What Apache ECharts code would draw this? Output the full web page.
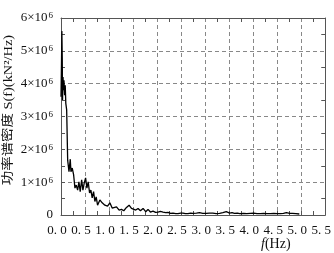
<!DOCTYPE html>
<html>
<head>
<meta charset="utf-8">
<script src="https://cdn.jsdelivr.net/npm/echarts@6/dist/echarts.min.js"></script>
<style>html,body{margin:0;padding:0;background:#fff;}#c{width:334px;height:253px;}</style>
</head>
<body>
<div id="c"></div>
<script>
// Frequency (Hz)
var freq = [0.000,0.010,0.018,0.026,0.032,0.042,0.052,0.062,0.075,0.088,0.100,0.118,0.139,0.166,0.193,0.207,0.234,0.263,0.290,0.317,0.346,0.373,0.400,0.430,0.456,0.483,0.512,0.539,0.566,0.595,0.622,0.649,0.678,0.705,0.732,0.761,0.809,0.857,0.913,0.969,1.017,1.065,1.085,1.155,1.210,1.259,1.307,1.363,1.417,1.467,1.500,1.556,1.604,1.654,1.708,1.763,1.811,1.861,1.915,1.970,2.019,2.070,2.124,2.180,2.227,2.280,2.330,2.390,2.434,2.490,2.537,2.590,2.641,2.700,2.745,2.820,2.884,2.950,3.023,3.090,3.160,3.230,3.300,3.370,3.440,3.510,3.560,3.610,3.670,3.720,3.800,3.870,3.940,4.010,4.080,4.150,4.220,4.290,4.360,4.430,4.500,4.570,4.630,4.690,4.760,4.820,4.890,4.960];
// Power spectral density, units of 10^6 kN^2/Hz
var psdE6 = [3.60,4.60,5.60,4.80,3.50,4.20,3.80,4.10,3.65,3.95,3.40,3.20,1.67,1.32,1.70,1.32,1.43,1.22,0.82,0.91,0.76,1.01,0.71,1.07,0.76,0.97,1.13,0.82,1.01,0.67,0.76,0.52,0.71,0.41,0.55,0.30,0.46,0.37,0.30,0.27,0.37,0.21,0.20,0.25,0.15,0.17,0.13,0.23,0.30,0.20,0.25,0.15,0.20,0.13,0.20,0.10,0.17,0.09,0.12,0.08,0.09,0.11,0.09,0.07,0.08,0.05,0.06,0.04,0.04,0.06,0.06,0.04,0.04,0.06,0.05,0.06,0.07,0.05,0.05,0.06,0.06,0.04,0.05,0.07,0.10,0.06,0.07,0.05,0.06,0.04,0.05,0.04,0.05,0.06,0.04,0.04,0.05,0.04,0.04,0.05,0.04,0.04,0.05,0.07,0.05,0.05,0.04,0.03];
var xTicks = [0,0.5,1.0,1.5,2.0,2.5,3.0,3.5,4.0,4.5,5.0,5.5];
var yTicks = [0,1,2,3,4,5,6];
var xName = 'f';
var xUnit = '(Hz)';
var yName = '功率谱密度 S(f)(kN²/Hz)';

var data = freq.map(function(f,i){return [f, psdE6[i]];});
var serif = '"Liberation Serif","DejaVu Serif","Noto Sans CJK SC",serif';
var axisColor = '#555';
var gridStyle = {show:true, lineStyle:{color:'#888', type:[4,3], width:1}};

var chart = echarts.init(document.getElementById('c'));
chart.setOption({
  animation:false,
  backgroundColor:'#fff',
  grid:{left:61, right:8, top:18, bottom:38},
  xAxis:[{
    type:'value', min:0, max:5.5, interval:0.5,
    axisLine:{show:true, onZero:false, lineStyle:{color:axisColor}},
    axisTick:{show:true, inside:true, length:4, lineStyle:{color:axisColor}},
    minorTick:{show:true, splitNumber:2, length:4, lineStyle:{color:axisColor}},
    splitLine:gridStyle,
    axisLabel:{
      margin:9, color:'#111', fontFamily:serif, fontSize:13,
      padding:[0,8,0,0],
      formatter:function(v){ return v.toFixed(1).replace('.', '. '); }
    }
  },{
    type:'value', position:'top', min:0, max:5.5, interval:0.5,
    axisLine:{show:true, onZero:false, lineStyle:{color:axisColor}},
    axisTick:{show:false, inside:true},
    minorTick:{show:true, splitNumber:2, length:4, lineStyle:{color:axisColor}},
    axisLabel:{show:false}, splitLine:{show:false}
  }],
  yAxis:[{
    type:'value', min:0, max:6, interval:1,
    axisLine:{show:true, onZero:false, lineStyle:{color:axisColor}},
    axisTick:{show:true, inside:true, length:4, lineStyle:{color:axisColor}},
    minorTick:{show:true, splitNumber:2, length:4, lineStyle:{color:axisColor}},
    splitLine:gridStyle,
    axisLabel:{
      margin:8, color:'#111', fontFamily:serif, fontSize:13,
      formatter:function(v){ return v===0 ? '{b|0}' : '{b|'+v+'×10}{s|6}'; },
      rich:{
        b:{fontFamily:serif, fontSize:13, color:'#111'},
        s:{fontFamily:serif, fontSize:9, color:'#111', verticalAlign:'top', padding:[0,0,0,1]}
      }
    }
  },{
    type:'value', position:'right', min:0, max:6, interval:1,
    axisLine:{show:true, onZero:false, lineStyle:{color:axisColor}},
    axisTick:{show:false, inside:true},
    minorTick:{show:true, splitNumber:2, length:4, lineStyle:{color:axisColor}},
    axisLabel:{show:false}, splitLine:{show:false}
  }],
  graphic:[{
    type:'text', left:261, top:237,
    style:{
      text:'{i|'+xName+'}{n|'+xUnit+'}',
      rich:{
        i:{fontFamily:serif, fontStyle:'italic', fontSize:14, fill:'#111'},
        n:{fontFamily:serif, fontSize:14, fill:'#111'}
      }
    }
  },{
    type:'text', x:9, y:110, rotation:Math.PI/2, scaleX:1.2,
    style:{
      text:yName, fontFamily:serif, fontSize:12, fill:'#111',
      textAlign:'center', textVerticalAlign:'middle'
    }
  }],
  series:[{
    type:'line', data:data, showSymbol:false, symbol:'none',
    lineStyle:{color:'#000', width:1.3},
    xAxisIndex:0, yAxisIndex:0, z:5
  }]
});
</script>
</body>
</html>
